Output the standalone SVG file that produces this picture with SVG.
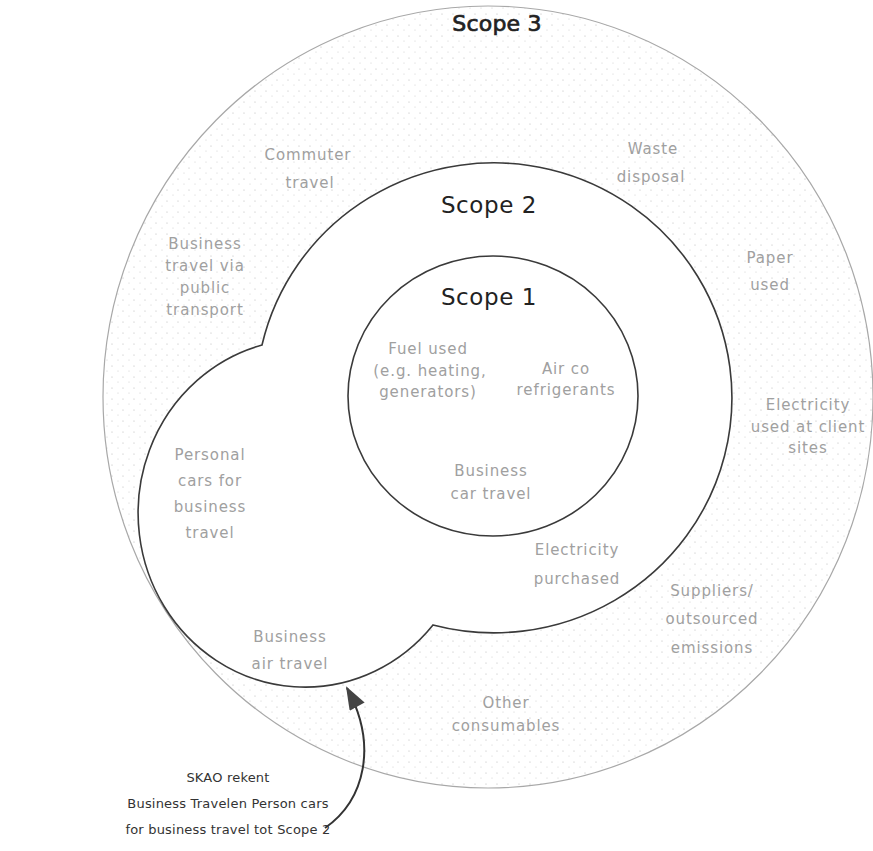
<svg xmlns="http://www.w3.org/2000/svg" width="873" height="851" viewBox="0 0 873 851">
<defs>
<pattern id="dots" width="11" height="11" patternUnits="userSpaceOnUse">
<circle cx="2" cy="3" r="0.6" fill="#b5b5b5"/>
<circle cx="8" cy="8" r="0.5" fill="#c4c4c4"/>
</pattern>
<marker id="arrowhead" viewBox="0 0 22 16" refX="20" refY="8" markerWidth="24" markerHeight="17" orient="auto" markerUnits="userSpaceOnUse">
<path d="M0,0 L22,8 L0,16 Z" fill="#444"/>
</marker>
</defs>
<style>
.scope{font-family:"DejaVu Sans",sans-serif;font-size:23px;fill:#222;text-anchor:middle;letter-spacing:0.6px}
.s3{font-size:22px;letter-spacing:0.2px;stroke:#222;stroke-width:0.7px}
.lbl{font-family:"DejaVu Sans",sans-serif;font-size:15px;fill:#a0a0a0;text-anchor:middle;letter-spacing:0.9px}
.note{font-family:"DejaVu Sans",sans-serif;font-size:13px;fill:#333;text-anchor:middle;letter-spacing:0.2px}
.ring{stroke:#a8a8a8;stroke-width:1.2}
.edge{fill:#fff;stroke:#3a3a3a;stroke-width:1.6}
</style>
<rect width="873" height="851" fill="#fff"/>
<g id="scope3">
<ellipse cx="488" cy="397" rx="385" ry="391" fill="url(#dots)" class="ring"/>
<text class="scope s3" x="497" y="31">Scope 3</text>
</g>
<g id="scope2">
<path class="edge" d="M262,345 A238,235 0 1 1 433,625 A167,174 0 1 1 262,345 Z"/>
<text class="scope" x="489" y="213">Scope 2</text>
</g>
<g id="scope1">
<ellipse class="edge" cx="493" cy="396" rx="145" ry="140"/>
<text class="scope" x="489" y="305">Scope 1</text>
</g>
<g id="commuter-travel"><text class="lbl" x="308" y="160">Commuter</text><text class="lbl" x="310" y="188">travel</text></g>
<g id="waste-disposal"><text class="lbl" x="653" y="154">Waste</text><text class="lbl" x="651" y="182">disposal</text></g>
<g id="business-travel-public"><text class="lbl" x="205" y="249">Business</text><text class="lbl" x="205" y="271">travel via</text><text class="lbl" x="205" y="293">public</text><text class="lbl" x="205" y="315">transport</text></g>
<g id="paper-used"><text class="lbl" x="770" y="263">Paper</text><text class="lbl" x="770" y="290">used</text></g>
<g id="electricity-client"><text class="lbl" x="808" y="410">Electricity</text><text class="lbl" x="808" y="432">used at client</text><text class="lbl" x="808" y="453">sites</text></g>
<g id="fuel-used"><text class="lbl" x="428" y="354">Fuel used</text><text class="lbl" x="430" y="376">(e.g. heating,</text><text class="lbl" x="428" y="397">generators)</text></g>
<g id="air-co"><text class="lbl" x="566" y="374">Air co</text><text class="lbl" x="566" y="395">refrigerants</text></g>
<g id="business-car-travel"><text class="lbl" x="491" y="476">Business</text><text class="lbl" x="491" y="499">car travel</text></g>
<g id="personal-cars"><text class="lbl" x="210" y="460">Personal</text><text class="lbl" x="210" y="486">cars for</text><text class="lbl" x="210" y="512">business</text><text class="lbl" x="210" y="538">travel</text></g>
<g id="electricity-purchased"><text class="lbl" x="577" y="555">Electricity</text><text class="lbl" x="577" y="584">purchased</text></g>
<g id="business-air-travel"><text class="lbl" x="290" y="642">Business</text><text class="lbl" x="290" y="669">air travel</text></g>
<g id="suppliers"><text class="lbl" x="712" y="596">Suppliers/</text><text class="lbl" x="712" y="624">outsourced</text><text class="lbl" x="712" y="653">emissions</text></g>
<g id="other-consumables"><text class="lbl" x="506" y="708">Other</text><text class="lbl" x="506" y="731">consumables</text></g>
<g id="note">
<text class="note" x="228" y="782">SKAO rekent</text>
<text class="note" x="228" y="808">Business Travelen Person cars</text>
<text class="note" x="228" y="834">for business travel tot Scope 2</text>
</g>
<g id="connectors">
<path d="M325,828 C365,800 378,745 347,688" fill="none" stroke="#333" stroke-width="2" marker-end="url(#arrowhead)"/>
</g>
</svg>
